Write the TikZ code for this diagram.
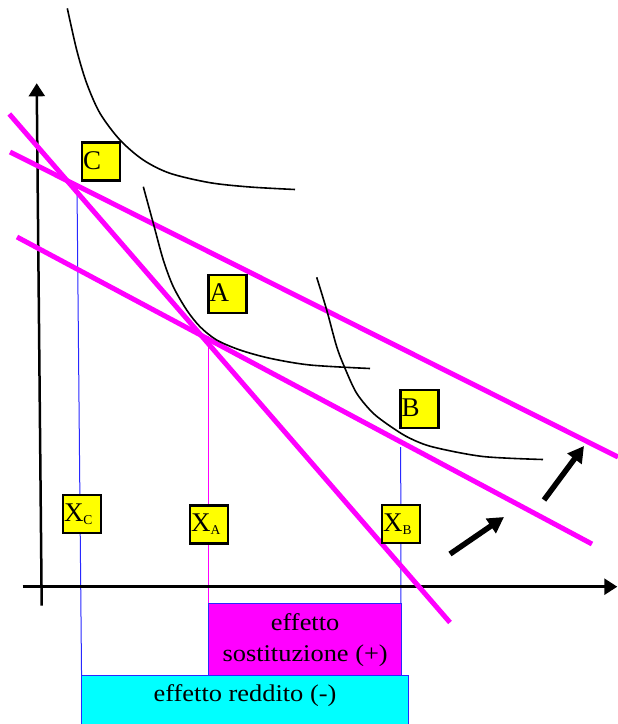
\documentclass[tikz,border=0pt]{standalone}
\usepackage{fontspec}
\setmainfont{Liberation Serif}
\newfontfamily\widerserif[FakeStretch=1.1]{Liberation Serif}
\usetikzlibrary{arrows.meta}
\definecolor{mag}{RGB}{255,0,255}
\definecolor{cyn}{RGB}{0,255,255}
\definecolor{yel}{RGB}{255,255,0}
\definecolor{bl}{RGB}{40,40,255}
\begin{document}
\begin{tikzpicture}[x=1pt,y=-1pt,
  axisline/.style={line width=2.5pt, -{Triangle[length=13pt,width=16pt]}},
  budget/.style={draw=mag, line width=5pt},
  icurve/.style={line width=1.6pt},
  guideline/.style={line width=1pt},
  lbl/.style={draw=black, fill=yel, line width=2.5pt, minimum width=38pt, minimum height=38pt,
    inner sep=0pt, text height=19pt, text depth=4pt, font=\fontsize{27}{30}\selectfont},
  movearrow/.style={line width=5.5pt, -{Triangle[length=16pt,width=17pt]}},
  effbox/.style={inner sep=0pt, font=\widerserif\fontsize{24}{31}\selectfont, align=center}
]
\useasboundingbox (0,0) rectangle (618,724);

% coordinates
\coordinate (yb) at (41.7,605.7);
\coordinate (yt) at (36.7,83.3);
\coordinate (xl) at (22.7,586.7);
\coordinate (xr) at (617.3,586.7);
\coordinate (L1a) at (9.3,114);
\coordinate (L1b) at (450,622.5);
\coordinate (L2a) at (10,152);
\coordinate (L2b) at (618,457);
\coordinate (L3a) at (17,237);
\coordinate (L3b) at (592,544);
\coordinate (Cp) at (77,187);
\coordinate (Cb) at (82,724);
\coordinate (Ap) at (208.5,336);
\coordinate (Ab) at (208.5,603.3);
\coordinate (Bp) at (400.7,447);
\coordinate (Bb) at (401,675);
\coordinate (m1a) at (450,554);
\coordinate (m1b) at (504,517);
\coordinate (m2a) at (544,500);
\coordinate (m2b) at (584,446);

% guide lines
\draw[guideline, bl] (Cp) -- (Cb);
\draw[guideline, mag] (Ap) -- (Ab);
\draw[guideline, bl] (Bp) -- (Bb);

% axes
\draw[axisline] (yb) -- (yt);
\draw[axisline] (xl) -- (xr);

% budget lines
\draw[budget] (L1a) -- (L1b);
\draw[budget] (L2a) -- (L2b);
\draw[budget] (L3a) -- (L3b);

% indifference curves
\draw[icurve] plot[smooth] coordinates {(67.3,8.3) (76.7,50) (86.7,83.3) (100,113.3) (120,140) (143.3,160) (170,173.3) (210,182.7) (250,187) (295,189.5)};
\draw[icurve] plot[smooth] coordinates {(143.3,186.7) (153.3,223.3) (163.3,260) (173.3,286.7) (186.7,310) (200,326.7) (216.7,340) (240,350) (270,358.3) (310,365) (370,368.5)};
\draw[icurve] plot[smooth] coordinates {(316.7,277.3) (326.7,310) (336.7,346.7) (345,368.3) (356.7,393.3) (373.3,413.3) (393.3,428.3) (410,438.3) (433,447) (483,456.5) (543,459.5)};

% shift arrows
\draw[movearrow] (m1a) -- (m1b);
\draw[movearrow] (m2a) -- (m2b);

% effect boxes
\node[fill=mag, draw=bl, line width=1pt, minimum width=192.7pt, minimum height=71.7pt,
  anchor=north west, effbox] (sost) at (208.3,603.3) {effetto\\sostituzione (+)};
\node[fill=cyn, minimum width=326.6pt, minimum height=49pt, anchor=north west, inner sep=0pt] (redd) at (81.7,675) {};
\draw[bl, line width=1pt] (redd.south west) -- (redd.north west) -- (redd.north east) -- (redd.south east);
\node[anchor=base, effbox] (reddtxt) at (245,701.7) {effetto reddito (-)};

% labels
\node[lbl] (C) at (101,161.5) {\makebox[36pt][l]{C}};
\node[lbl] (A) at (227.7,294) {\makebox[36pt][l]{A}};
\node[lbl] (B) at (419.5,409) {\makebox[36pt][l]{B}};
\node[lbl] (XC) at (82,514) {\makebox[36pt][l]{X\raisebox{-2.5pt}{\fontsize{13.5}{14}\selectfont C}}};
\node[lbl] (XA) at (209,524.3) {\makebox[36pt][l]{X\raisebox{-2.5pt}{\fontsize{13.5}{14}\selectfont A}}};
\node[lbl] (XB) at (401,524) {\makebox[36pt][l]{X\raisebox{-2.5pt}{\fontsize{13.5}{14}\selectfont B}}};
\end{tikzpicture}
\end{document}
